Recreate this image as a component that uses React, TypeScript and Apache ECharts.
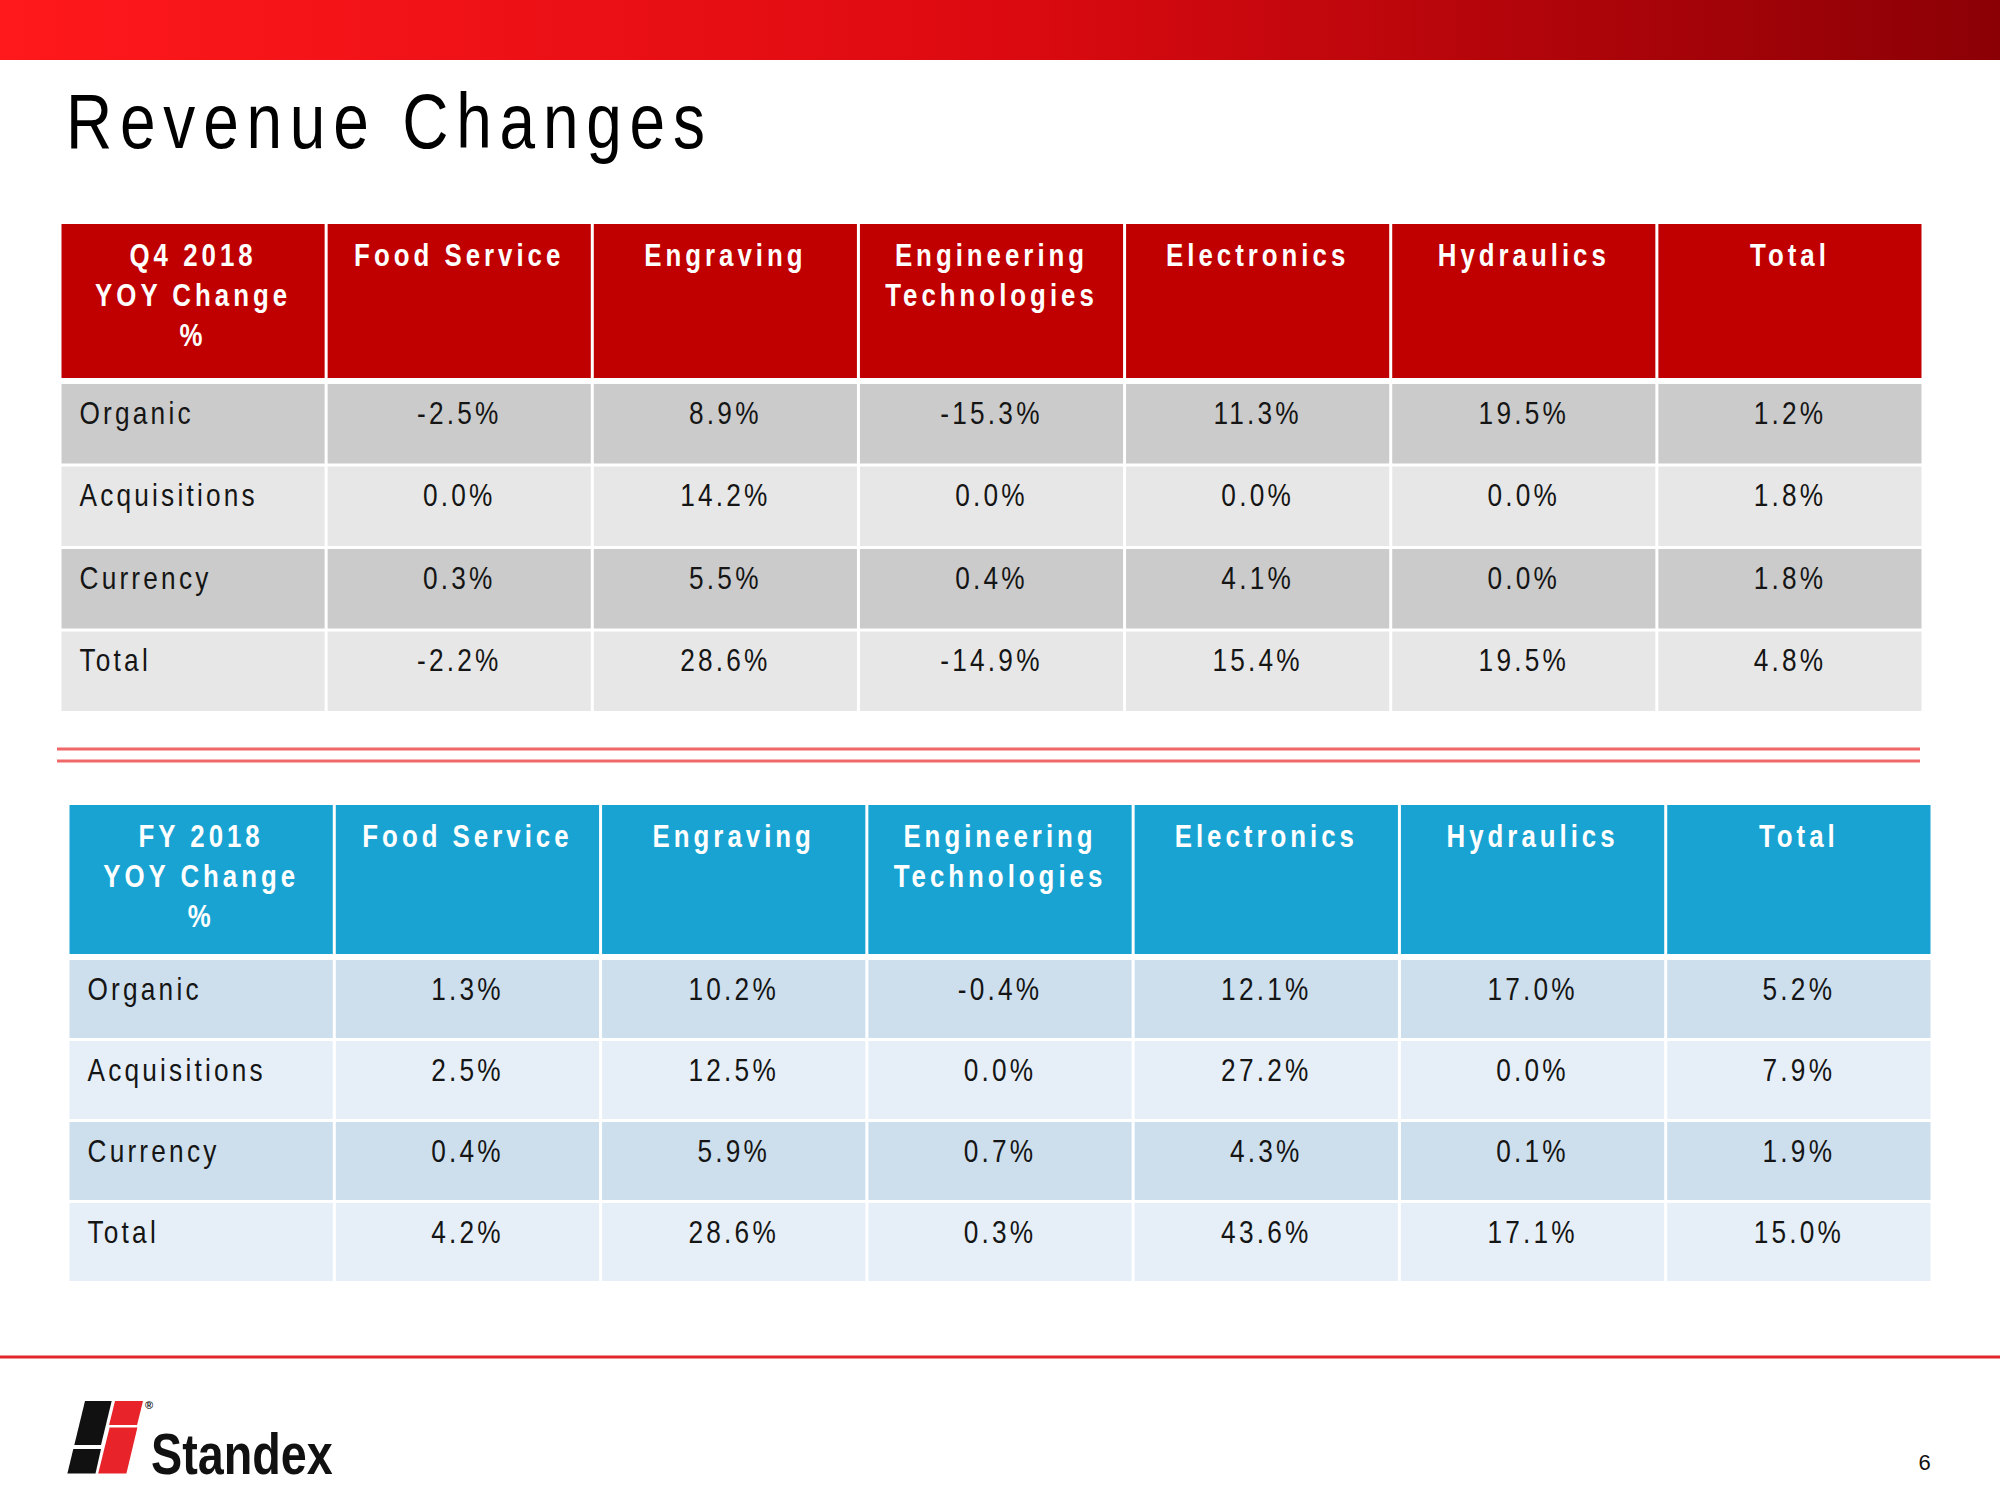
import React, { useEffect, useRef } from "react";
import * as echarts from "echarts";

// ---- data ----
const columnHeaders = ["Food Service", "Engraving", "Engineering\nTechnologies", "Electronics", "Hydraulics", "Total"];
const q4Corner = "Q4 2018\nYOY Change\n%";
const fyCorner = "FY 2018\nYOY Change\n%";
const rowLabels = ["Organic", "Acquisitions", "Currency", "Total"];

const q4Organic = [-2.5, 8.9, -15.3, 11.3, 19.5, 1.2];
const q4Acquisitions = [0.0, 14.2, 0.0, 0.0, 0.0, 1.8];
const q4Currency = [0.3, 5.5, 0.4, 4.1, 0.0, 1.8];
const q4Total = [-2.2, 28.6, -14.9, 15.4, 19.5, 4.8];

const fyOrganic = [1.3, 10.2, -0.4, 12.1, 17.0, 5.2];
const fyAcquisitions = [2.5, 12.5, 0.0, 27.2, 0.0, 7.9];
const fyCurrency = [0.4, 5.9, 0.7, 4.3, 0.1, 1.9];
const fyTotal = [4.2, 28.6, 0.3, 43.6, 17.1, 15.0];

const FONT = "'Liberation Sans', Arial, sans-serif";
const NARROW = 0.82;
const fmt = (v: number) => v.toFixed(1) + "%";

function headerSeries(axisIdx: number, corner: string, fill: string) {
  const labels = [corner, ...columnHeaders];
  const data = labels.map((_, i) => [i, 0]);
  return {
    type: "custom",
    coordinateSystem: "cartesian2d",
    xAxisIndex: axisIdx,
    yAxisIndex: axisIdx,
    silent: true,
    clip: false,
    data,
    renderItem: (params: any, api: any) => {
      const col = api.value(0);
      const row = api.value(1);
      const c = api.coord([col, row]);
      const s = api.size([1, 1]);
      const x0 = c[0] - s[0] / 2 + 1.5;
      const w = s[0] - 3;
      const y0 = c[1] - s[1] / 2;
      const h = s[1];
      return {
        type: "group",
        children: [
          { type: "rect", shape: { x: x0, y: y0, width: w, height: h }, style: { fill } },
          {
            type: "text",
            x: x0 + w / 2,
            y: y0 + 11,
            scaleX: NARROW,
            style: {
              text: labels[params.dataIndex],
              fill: "#ffffff",
              fontFamily: FONT,
              fontWeight: "bold",
              fontSize: 31.5,
              lineHeight: 40,
              align: "center",
              verticalAlign: "top",
            },
          },
        ],
      };
    },
  };
}

function bodySeries(axisIdx: number, rows: number[][], dark: string, light: string) {
  const data: number[][] = [];
  const labels: string[] = [];
  rows.forEach((vals, r) => {
    data.push([0, r]);
    labels.push(rowLabels[r]);
    vals.forEach((v, c) => {
      data.push([c + 1, r]);
      labels.push(fmt(v));
    });
  });
  return {
    type: "custom",
    coordinateSystem: "cartesian2d",
    xAxisIndex: axisIdx,
    yAxisIndex: axisIdx,
    silent: true,
    clip: false,
    data,
    renderItem: (params: any, api: any) => {
      const col = api.value(0);
      const row = api.value(1);
      const c = api.coord([col, row]);
      const s = api.size([1, 1]);
      const x0 = c[0] - s[0] / 2 + 1.5;
      const w = s[0] - 3;
      const y0 = c[1] - s[1] / 2 + 1.5;
      const h = s[1] - 3;
      const first = col === 0;
      return {
        type: "group",
        children: [
          { type: "rect", shape: { x: x0, y: y0, width: w, height: h }, style: { fill: row % 2 === 0 ? dark : light } },
          {
            type: "text",
            x: first ? x0 + 18 : x0 + w / 2,
            y: y0 + 29,
            scaleX: NARROW,
            style: {
              text: labels[params.dataIndex],
              fill: "#151515",
              fontFamily: FONT,
              fontSize: 32,
              align: first ? "left" : "center",
              verticalAlign: "middle",
            },
          },
        ],
      };
    },
  };
}

const css = `
#slide text { letter-spacing: 0.122em; }
#slide text[style*="bold"] { letter-spacing: 0.155em; }
#slide text[style*="900"] { letter-spacing: 0; }
`;

export default function App() {
  const ref = useRef<HTMLDivElement>(null);
  useEffect(() => {
    const chart = echarts.init(ref.current!, null, { renderer: "svg" });
    const cats = ["corner", ...columnHeaders];
    const grids = [
      { left: 60, top: 224, width: 1863, height: 154 },
      { left: 60, top: 382.5, width: 1863, height: 330 },
      { left: 68, top: 805, width: 1864, height: 149 },
      { left: 68, top: 958.5, width: 1864, height: 324 },
    ];
    const xAxis = grids.map((_, i) => ({ type: "category", gridIndex: i, data: cats, show: false }));
    const yAxis = grids.map((_, i) => ({
      type: "category",
      gridIndex: i,
      data: i % 2 === 0 ? ["header"] : rowLabels,
      inverse: true,
      show: false,
    }));

    const option: any = {
      animation: false,
      backgroundColor: "#ffffff",
      grid: grids.map((g) => ({ ...g, containLabel: false })),
      xAxis,
      yAxis,
      series: [
        headerSeries(0, q4Corner, "#c00000"),
        bodySeries(1, [q4Organic, q4Acquisitions, q4Currency, q4Total], "#cbcbcb", "#e7e7e7"),
        headerSeries(2, fyCorner, "#18a3d3"),
        bodySeries(3, [fyOrganic, fyAcquisitions, fyCurrency, fyTotal], "#cddfed", "#e6eff7"),
      ],
      graphic: [
        {
          type: "rect",
          shape: { x: 0, y: 0, width: 2000, height: 60 },
          style: {
            fill: new echarts.graphic.LinearGradient(0, 0, 1, 0, [
              { offset: 0, color: "#ff181c" },
              { offset: 0.5, color: "#dc0a10" },
              { offset: 1, color: "#8b0005" },
            ]),
          },
          silent: true,
        },
        {
          type: "text",
          x: 66,
          y: 121,
          scaleX: NARROW,
          style: { text: "Revenue Changes", fill: "#000000", fontFamily: FONT, fontSize: 78, verticalAlign: "middle", align: "left" },
        },
        { type: "line", shape: { x1: 57, y1: 749, x2: 1920, y2: 749 }, style: { stroke: "#f06868", lineWidth: 3 } },
        { type: "line", shape: { x1: 57, y1: 761, x2: 1920, y2: 761 }, style: { stroke: "#f06868", lineWidth: 3 } },
        { type: "line", shape: { x1: 0, y1: 1357, x2: 2000, y2: 1357 }, style: { stroke: "#e3262b", lineWidth: 3 } },
        // logo mark
        { type: "polygon", shape: { points: [[85, 1401], [111.7, 1401], [101, 1445], [74.3, 1445]] }, style: { fill: "#111111" } },
        { type: "polygon", shape: { points: [[73.3, 1449], [101, 1449], [95.5, 1473.5], [67.4, 1473.5]] }, style: { fill: "#111111" } },
        { type: "polygon", shape: { points: [[115, 1401], [143, 1401], [137.1, 1425], [109.1, 1425]] }, style: { fill: "#e8232a" } },
        { type: "polygon", shape: { points: [[109.6, 1427.5], [137.4, 1427.5], [126.4, 1473.5], [98.2, 1473.5]] }, style: { fill: "#e8232a" } },
        {
          type: "text",
          x: 151,
          y: 1454,
          scaleX: NARROW,
          style: { text: "Standex", fill: "#111111", fontFamily: FONT, fontWeight: 900, fontSize: 57, verticalAlign: "middle", align: "left" },
        },
        {
          type: "text",
          x: 149,
          y: 1405,
          style: { text: "®", fill: "#111111", fontFamily: FONT, fontWeight: 900, fontSize: 11, verticalAlign: "middle", align: "center" },
        },
        {
          type: "text",
          x: 1926,
          y: 1462,
          style: { text: "6", fill: "#111111", fontFamily: FONT, fontSize: 22, verticalAlign: "middle", align: "center" },
        },
      ],
    };
    chart.setOption(option);
    return () => chart.dispose();
  }, []);
  return (
    <>
      <style>{css}</style>
      <div
        id="slide"
        ref={ref}
        style={{ position: "absolute", left: 0, top: 0, width: 2000, height: 1500, background: "#ffffff" }}
      />
    </>
  );
}
